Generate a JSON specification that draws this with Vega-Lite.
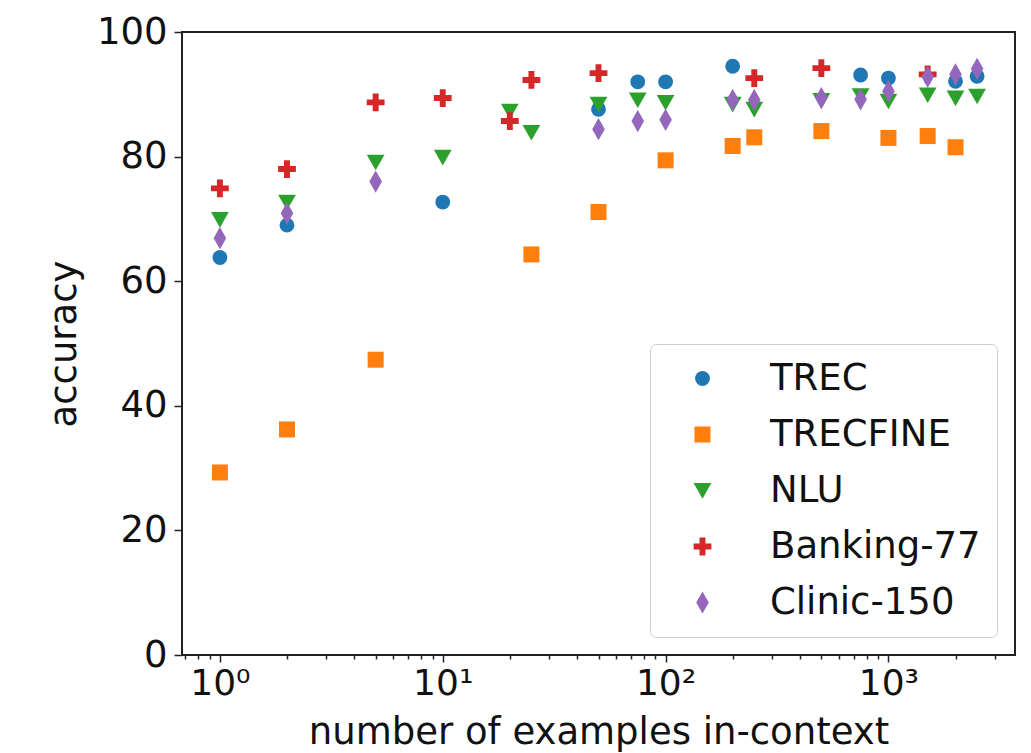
{
  "$schema": "https://vega.github.io/schema/vega-lite/v6.json",
  "width": 833,
  "height": 623,
  "autosize": "none",
  "padding": {"left": 182, "top": 32, "right": 16, "bottom": 98},
  "background": "white",
  "config": {
    "view": {"stroke": "#222", "strokeWidth": 2},
    "font": "DejaVu Sans",
    "axis": {"grid": false, "domain": false, "tickColor": "#222", "tickWidth": 1.5, "labelColor": "#111", "titleColor": "#111", "titleFontWeight": "normal", "labelFont": "DejaVu Sans", "titleFont": "DejaVu Sans"}
  },
  "data": {
    "values": [
      {"dataset": "TREC", "n": 1, "acc": 63.8},
      {"dataset": "TREC", "n": 2, "acc": 69.0},
      {"dataset": "TREC", "n": 10, "acc": 72.7},
      {"dataset": "TREC", "n": 50, "acc": 87.6},
      {"dataset": "TREC", "n": 75, "acc": 92.0},
      {"dataset": "TREC", "n": 100, "acc": 92.0},
      {"dataset": "TREC", "n": 200, "acc": 94.5},
      {"dataset": "TREC", "n": 750, "acc": 93.1},
      {"dataset": "TREC", "n": 1000, "acc": 92.6},
      {"dataset": "TREC", "n": 2000, "acc": 92.1},
      {"dataset": "TREC", "n": 2500, "acc": 92.9},
      {"dataset": "TRECFINE", "n": 1, "acc": 29.3},
      {"dataset": "TRECFINE", "n": 2, "acc": 36.2},
      {"dataset": "TRECFINE", "n": 5, "acc": 47.4},
      {"dataset": "TRECFINE", "n": 25, "acc": 64.3},
      {"dataset": "TRECFINE", "n": 50, "acc": 71.1},
      {"dataset": "TRECFINE", "n": 100, "acc": 79.4},
      {"dataset": "TRECFINE", "n": 200, "acc": 81.7},
      {"dataset": "TRECFINE", "n": 250, "acc": 83.1},
      {"dataset": "TRECFINE", "n": 500, "acc": 84.1},
      {"dataset": "TRECFINE", "n": 1000, "acc": 83.0},
      {"dataset": "TRECFINE", "n": 1500, "acc": 83.3},
      {"dataset": "TRECFINE", "n": 2000, "acc": 81.5},
      {"dataset": "NLU", "n": 1, "acc": 69.9},
      {"dataset": "NLU", "n": 2, "acc": 72.7},
      {"dataset": "NLU", "n": 5, "acc": 79.1},
      {"dataset": "NLU", "n": 10, "acc": 79.9},
      {"dataset": "NLU", "n": 20, "acc": 87.3},
      {"dataset": "NLU", "n": 25, "acc": 83.9},
      {"dataset": "NLU", "n": 50, "acc": 88.4},
      {"dataset": "NLU", "n": 75, "acc": 89.1},
      {"dataset": "NLU", "n": 100, "acc": 88.7},
      {"dataset": "NLU", "n": 200, "acc": 88.4},
      {"dataset": "NLU", "n": 250, "acc": 87.6},
      {"dataset": "NLU", "n": 500, "acc": 89.0},
      {"dataset": "NLU", "n": 750, "acc": 89.8},
      {"dataset": "NLU", "n": 1000, "acc": 88.9},
      {"dataset": "NLU", "n": 1500, "acc": 89.9},
      {"dataset": "NLU", "n": 2000, "acc": 89.4},
      {"dataset": "NLU", "n": 2500, "acc": 89.7},
      {"dataset": "Banking-77", "n": 1, "acc": 74.9},
      {"dataset": "Banking-77", "n": 2, "acc": 78.0},
      {"dataset": "Banking-77", "n": 5, "acc": 88.7},
      {"dataset": "Banking-77", "n": 10, "acc": 89.4},
      {"dataset": "Banking-77", "n": 20, "acc": 85.7},
      {"dataset": "Banking-77", "n": 25, "acc": 92.3},
      {"dataset": "Banking-77", "n": 50, "acc": 93.4},
      {"dataset": "Banking-77", "n": 250, "acc": 92.6},
      {"dataset": "Banking-77", "n": 500, "acc": 94.2},
      {"dataset": "Banking-77", "n": 1500, "acc": 93.2},
      {"dataset": "Clinic-150", "n": 1, "acc": 66.9},
      {"dataset": "Clinic-150", "n": 2, "acc": 70.9},
      {"dataset": "Clinic-150", "n": 5, "acc": 76.0},
      {"dataset": "Clinic-150", "n": 50, "acc": 84.4},
      {"dataset": "Clinic-150", "n": 75, "acc": 85.7},
      {"dataset": "Clinic-150", "n": 100, "acc": 85.9},
      {"dataset": "Clinic-150", "n": 200, "acc": 89.1},
      {"dataset": "Clinic-150", "n": 250, "acc": 89.1},
      {"dataset": "Clinic-150", "n": 500, "acc": 89.4},
      {"dataset": "Clinic-150", "n": 750, "acc": 89.2},
      {"dataset": "Clinic-150", "n": 1000, "acc": 90.5},
      {"dataset": "Clinic-150", "n": 1500, "acc": 92.8},
      {"dataset": "Clinic-150", "n": 2000, "acc": 93.2},
      {"dataset": "Clinic-150", "n": 2500, "acc": 94.1}
    ]
  },
  "mark": {"type": "point", "filled": true, "opacity": 1, "size": 220, "strokeWidth": 0},
  "encoding": {
    "x": {
      "field": "n",
      "type": "quantitative",
      "scale": {"type": "log", "domain": [0.676, 3698], "nice": false},
      "axis": {
        "title": "number of examples in-context",
        "titleFontSize": 37,
        "titlePadding": 13,
        "labelFontSize": 36,
        "labelPadding": 4,
        "values": [0.7, 0.8, 0.9, 1, 2, 3, 4, 5, 6, 7, 8, 9, 10, 20, 30, 40, 50, 60, 70, 80, 90, 100, 200, 300, 400, 500, 600, 700, 800, 900, 1000, 2000, 3000],
        "labelExpr": "datum.value == 1 ? '10⁰' : datum.value == 10 ? '10¹' : datum.value == 100 ? '10²' : datum.value == 1000 ? '10³' : ''",
        "tickSize": {"condition": {"test": "datum.value == 1 || datum.value == 10 || datum.value == 100 || datum.value == 1000", "value": 7}, "value": 4},
        "labelFlush": false,
        "labelOverlap": false
      }
    },
    "y": {
      "field": "acc",
      "type": "quantitative",
      "scale": {"domain": [0, 100], "nice": false},
      "axis": {
        "title": "accuracy",
        "titleFontSize": 37,
        "titlePadding": 13,
        "labelFontSize": 37,
        "labelPadding": 7,
        "tickSize": 8,
        "values": [0, 20, 40, 60, 80, 100]
      }
    },
    "color": {
      "field": "dataset",
      "type": "nominal",
      "scale": {
        "domain": ["TREC", "TRECFINE", "NLU", "Banking-77", "Clinic-150"],
        "range": ["#1f77b4", "#ff7f0e", "#2ca02c", "#d62728", "#9467bd"]
      },
      "legend": {
        "title": null,
        "orient": "bottom-right",
        "offset": 18,
        "padding": 16,
        "strokeColor": "#cccccc",
        "fillColor": "white",
        "cornerRadius": 6,
        "labelFontSize": 37,
        "labelColor": "#111",
        "labelLimit": 400,
        "labelOffset": 49,
        "symbolOffset": 18,
        "symbolSize": 220,
        "symbolStrokeWidth": 0,
        "rowPadding": 18
      }
    },
    "shape": {
      "field": "dataset",
      "type": "nominal",
      "scale": {
        "domain": ["TREC", "TRECFINE", "NLU", "Banking-77", "Clinic-150"],
        "range": [
          "circle",
          "M-1.08,-1.08H1.08V1.08H-1.08Z",
          "M-1.2,-1L1.2,-1L0,1.1Z",
          "M-0.4,-1.2H0.4V-0.4H1.2V0.4H0.4V1.2H-0.4V0.4H-1.2V-0.4H-0.4Z",
          "M0,-1.5L0.85,0L0,1.5L-0.85,0Z"
        ]
      }
    }
  }
}
